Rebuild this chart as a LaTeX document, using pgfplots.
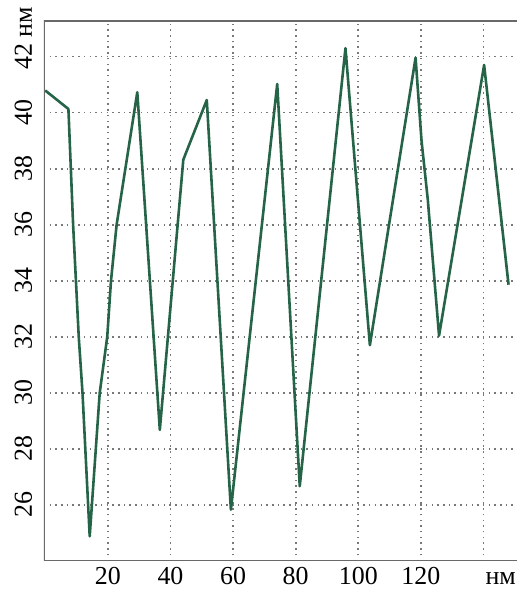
\documentclass[border=0pt]{standalone}
\usepackage{pgfplots}
\pgfplotsset{compat=1.18}
\usepackage{fontspec}
\setmainfont{Liberation Serif}
\definecolor{lc}{RGB}{38,100,72}
\definecolor{spine}{RGB}{105,105,105}
\definecolor{gridc}{RGB}{120,120,120}
\begin{document}
\begin{tikzpicture}
\begin{axis}[
  scale only axis, width=473bp, height=540bp,
  xmin=-0.4, xmax=150.7, ymin=24, ymax=43.27,
  xtick={20,40,...,140}, xticklabels={20,40,60,80,100,120,{}},
  ytick={26,28,...,42}, yticklabels={26,28,30,32,34,36,38,40,{42\rlap{ нм}}},
  extra x ticks={145.5}, extra x tick labels={нм},
  extra x tick style={grid=none},
  grid=major,
  major grid style={gridc, line width=1.7bp, dash pattern=on 1.5bp off 4.2bp},
  major tick length=0pt,
  axis line style={draw=none},
  tick label style={font=\fontsize{26}{30}\selectfont},
  /pgf/number format/assume math mode=true,
  xticklabel style={anchor=base, inner sep=0pt},
  xticklabel shift=23bp,
  yticklabel style={rotate=90, anchor=base, inner sep=0pt},
  yticklabel shift=12bp,
]
\addplot[lc, line width=2.6bp, line join=round] coordinates {
(0,40.79) (7.4,40.13) (8.9,36.0) (10.7,32.0) (11.9,30.0) (14.2,24.88)
(17.4,30.0) (19.8,32.0) (21.0,34.0) (22.8,36.0) (29.4,40.73)
(36.6,28.68) (44.1,38.32) (51.6,40.45) (59.3,25.83) (74.1,41.02)
(81.3,26.67) (95.9,42.30) (103.7,31.70) (118.3,41.96) (120.2,39.0)
(122.2,36.9) (125.8,32.04) (140.2,41.70) (148.0,33.86)
};
\draw[line width=2bp, spine] (rel axis cs:1,1) -- (rel axis cs:0,1) -- (rel axis cs:0,0) -- (rel axis cs:1,0);
\coordinate (bl) at (rel axis cs:0,0);
\coordinate (tr) at (rel axis cs:1,1);
\end{axis}
\pgfresetboundingbox
\path ([xshift=-44bp,yshift=-31bp]bl) rectangle ([yshift=21bp]tr);
\end{tikzpicture}
\end{document}
